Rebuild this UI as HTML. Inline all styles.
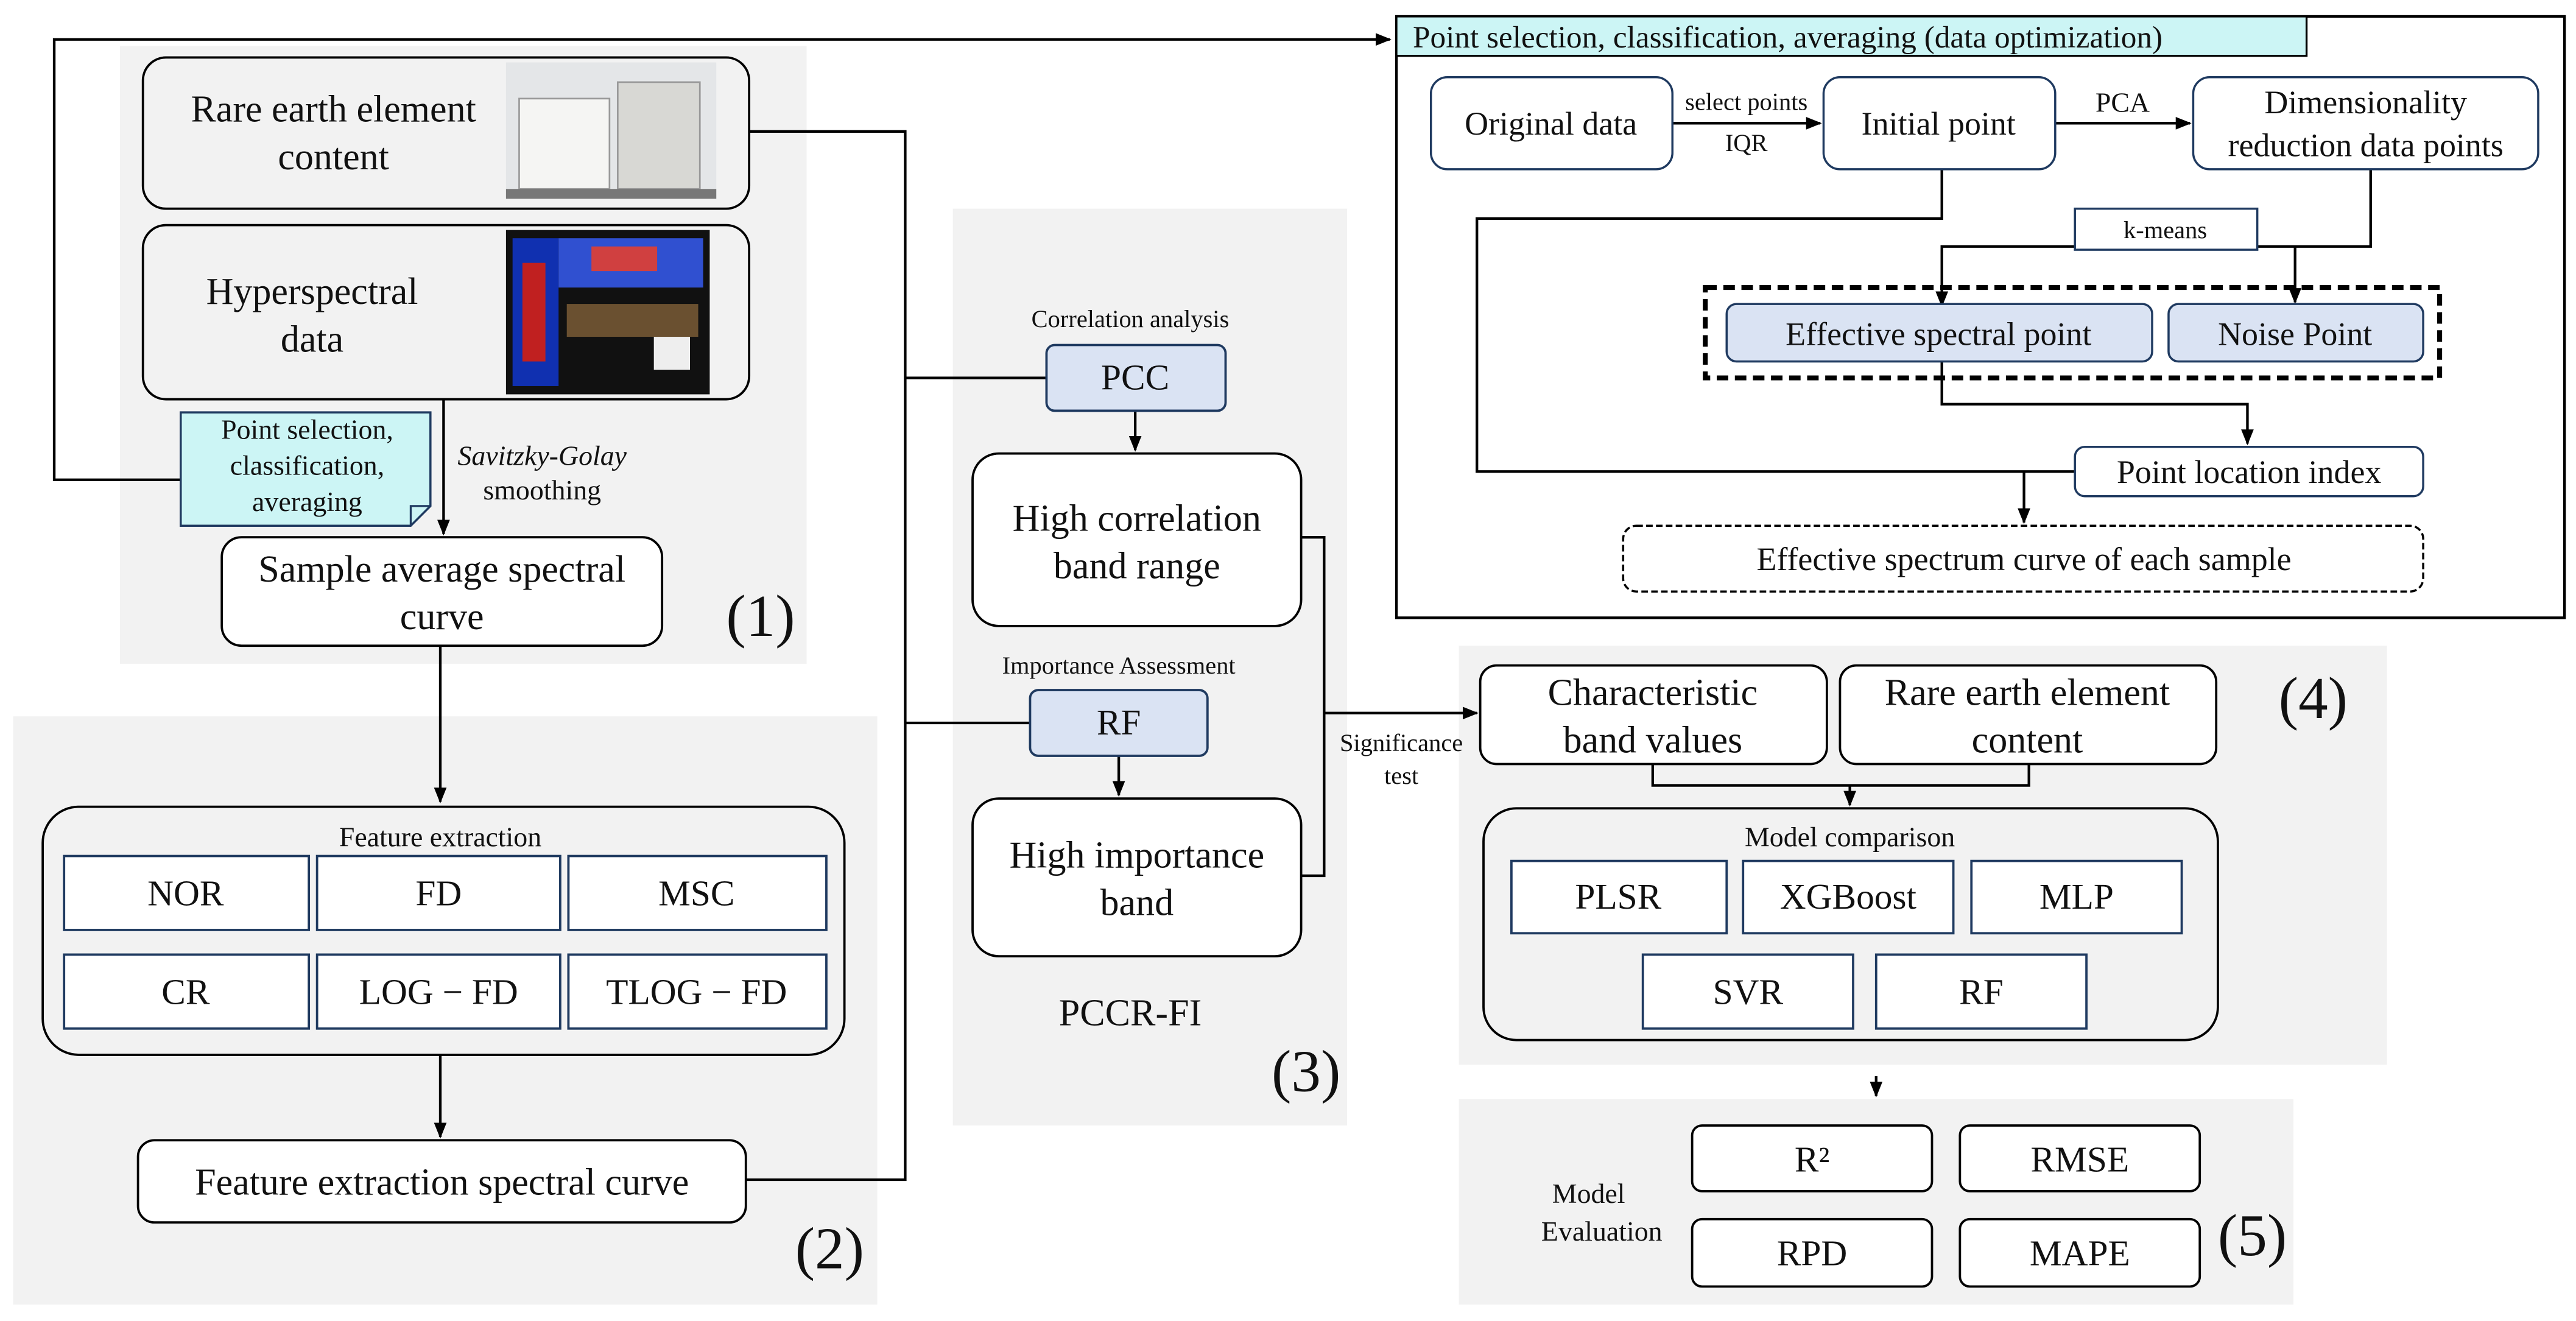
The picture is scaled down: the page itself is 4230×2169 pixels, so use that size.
<!DOCTYPE html>
<html><head><meta charset="utf-8"><style>
html,body{margin:0;padding:0;background:#fff;}
svg{display:block;}
svg text{font-family:"Liberation Serif","DejaVu Serif",serif;fill:#111;}
</style></head><body>
<svg width="4230" height="2169" viewBox="0 0 1568 804" preserveAspectRatio="none" xmlns="http://www.w3.org/2000/svg" font-family="Liberation Serif, DejaVu Serif, serif">
<defs>
<marker id="a" viewBox="0 0 10 10" refX="9" refY="5" markerWidth="6" markerHeight="6" orient="auto"><path d="M0,1 L10,5 L0,9 z" fill="#000"/></marker>
</defs>
<rect x="73" y="28" width="418" height="376" fill="#f2f2f2"/>
<rect x="8" y="436" width="526" height="358" fill="#f2f2f2"/>
<rect x="580" y="127" width="240" height="558" fill="#f2f2f2"/>
<rect x="888" y="393" width="565" height="255" fill="#f2f2f2"/>
<rect x="888" y="669" width="508" height="125" fill="#f2f2f2"/>

<g fill="none" stroke="#000" stroke-width="1.6">
<polyline points="110,292 33,292 33,24 846,24" marker-end="url(#a)"/>
<line x1="268" y1="393" x2="268" y2="488" marker-end="url(#a)"/>
<line x1="270" y1="243" x2="270" y2="325" marker-end="url(#a)"/>
<line x1="268" y1="642" x2="268" y2="692" marker-end="url(#a)"/>
<polyline points="454,718 551,718 551,80 456,80"/>
<line x1="551" y1="230" x2="637" y2="230"/>
<line x1="551" y1="440" x2="627" y2="440"/>
<line x1="691" y1="250" x2="691" y2="274" marker-end="url(#a)"/>
<line x1="681" y1="460" x2="681" y2="484" marker-end="url(#a)"/>
<polyline points="792,327 806,327 806,533 792,533"/>
<line x1="806" y1="434" x2="899" y2="434" marker-end="url(#a)"/>
<polyline points="1006,465 1006,478 1235,478 1235,465"/>
<line x1="1126" y1="478" x2="1126" y2="490" marker-end="url(#a)"/>
<line x1="1142" y1="655" x2="1142" y2="667" marker-end="url(#a)"/>
<line x1="1018" y1="75" x2="1108" y2="75" marker-end="url(#a)"/>
<line x1="1251" y1="75" x2="1333" y2="75" marker-end="url(#a)"/>
<polyline points="1443,103 1443,150 1182,150 1182,186" marker-end="url(#a)"/>
<line x1="1397" y1="150" x2="1397" y2="184" marker-end="url(#a)"/>
<polyline points="1182,220 1182,246 1368,246 1368,270" marker-end="url(#a)"/>
<polyline points="1182,103 1182,133 899,133 899,287 1263,287"/>
<line x1="1232" y1="287" x2="1232" y2="318" marker-end="url(#a)"/>
</g>

<rect x="850" y="10" width="711" height="366" fill="none" stroke="#000" stroke-width="1.6"/>
<rect x="850" y="10" width="554" height="24" fill="#ccf5f5" stroke="#000" stroke-width="1.2"/>
<text x="860" y="29" font-size="19">Point selection, classification, averaging (data optimization)</text>
<g fill="#fff" stroke="#1f3a60" stroke-width="1.3">
<rect x="871" y="47" width="147" height="56" rx="10"/>
<rect x="1110" y="47" width="141" height="56" rx="10"/>
<rect x="1335" y="47" width="210" height="56" rx="10"/>
<rect x="1263" y="127" width="111" height="25" fill="#fff"/>
<rect x="1263" y="272" width="212" height="30" rx="6"/>
</g>
<rect x="1038" y="175" width="447" height="55" fill="none" stroke="#000" stroke-width="3" stroke-dasharray="7,4"/>
<rect x="1051" y="185" width="259" height="35" rx="6" fill="#dae3f3" stroke="#1f3a60" stroke-width="1.3"/>
<rect x="1320" y="185" width="155" height="35" rx="6" fill="#dae3f3" stroke="#1f3a60" stroke-width="1.3"/>
<rect x="988" y="320" width="487" height="40" rx="8" fill="#fff" stroke="#000" stroke-width="1.3" stroke-dasharray="4,2"/>
<g font-size="20" text-anchor="middle">
<text x="944" y="82">Original data</text>
<text x="1180" y="82">Initial point</text>
<text x="1440" y="69">Dimensionality</text>
<text x="1440" y="95">reduction data points</text>
<text x="1180" y="210">Effective spectral point</text>
<text x="1397" y="210">Noise Point</text>
<text x="1369" y="294">Point location index</text>
<text x="1232" y="347">Effective spectrum curve of each sample</text>
</g>
<g font-size="15" text-anchor="middle">
<text x="1063" y="67">select points</text>
<text x="1063" y="92">IQR</text>
<text x="1292" y="68" font-size="17">PCA</text>
<text x="1318" y="145">k-means</text>
</g>

<rect x="87" y="35" width="369" height="92" rx="14" fill="#f2f2f2" stroke="#000" stroke-width="1.4"/>
<rect x="87" y="137" width="369" height="106" rx="14" fill="#f2f2f2" stroke="#000" stroke-width="1.4"/>
<rect x="308" y="38" width="128" height="83" fill="#e4e6e8"/>
<rect x="316" y="60" width="55" height="55" fill="#f5f5f3" stroke="#999"/>
<rect x="376" y="50" width="50" height="65" fill="#d8d8d4" stroke="#999"/>
<rect x="308" y="115" width="128" height="6" fill="#777"/>
<rect x="308" y="140" width="124" height="100" fill="#111"/>
<rect x="312" y="145" width="28" height="90" fill="#1030b0"/>
<rect x="318" y="160" width="14" height="60" fill="#c02020"/>
<rect x="340" y="145" width="88" height="30" fill="#3050d0"/>
<rect x="360" y="150" width="40" height="15" fill="#d04040"/>
<rect x="345" y="185" width="80" height="20" fill="#6a5030"/>
<rect x="398" y="205" width="22" height="20" fill="#eee"/>
<text x="203" y="74" font-size="23" text-anchor="middle">Rare earth element</text>
<text x="203" y="103" font-size="23" text-anchor="middle">content</text>
<text x="190" y="185" font-size="23" text-anchor="middle">Hyperspectral</text>
<text x="190" y="214" font-size="23" text-anchor="middle">data</text>
<path d="M110,251 H262 V308 L250,320 H110 Z" fill="#ccf5f5" stroke="#1f3a60" stroke-width="1.3"/>
<path d="M262,308 L250,308 L250,320" fill="none" stroke="#1f3a60" stroke-width="1.2"/>
<g font-size="17" text-anchor="middle">
<text x="187" y="267">Point selection,</text>
<text x="187" y="289">classification,</text>
<text x="187" y="311">averaging</text>
<text x="330" y="283" font-style="italic">Savitzky-Golay</text>
<text x="330" y="304">smoothing</text>
</g>
<rect x="135" y="327" width="268" height="66" rx="12" fill="#fff" stroke="#000" stroke-width="1.4"/>
<text x="269" y="354" font-size="23" text-anchor="middle">Sample average spectral</text>
<text x="269" y="383" font-size="23" text-anchor="middle">curve</text>
<text x="463" y="387" font-size="36" text-anchor="middle">(1)</text>

<rect x="26" y="491" width="488" height="151" rx="22" fill="#f2f2f2" stroke="#000" stroke-width="1.4"/>
<text x="268" y="515" font-size="17" text-anchor="middle">Feature extraction</text>
<g fill="#fff" stroke="#1f3a60" stroke-width="1.4">
<rect x="39" y="521" width="149" height="45"/><rect x="193" y="521" width="148" height="45"/><rect x="346" y="521" width="157" height="45"/>
<rect x="39" y="581" width="149" height="45"/><rect x="193" y="581" width="148" height="45"/><rect x="346" y="581" width="157" height="45"/>
</g>
<g font-size="22" text-anchor="middle">
<text x="113" y="551">NOR</text><text x="267" y="551">FD</text><text x="424" y="551">MSC</text>
<text x="113" y="611">CR</text><text x="267" y="611">LOG − FD</text><text x="424" y="611">TLOG − FD</text>
</g>
<rect x="84" y="694" width="370" height="50" rx="10" fill="#fff" stroke="#000" stroke-width="1.4"/>
<text x="269" y="727" font-size="23" text-anchor="middle">Feature extraction spectral curve</text>
<text x="505" y="772" font-size="36" text-anchor="middle">(2)</text>

<text x="688" y="199" font-size="15" text-anchor="middle">Correlation analysis</text>
<rect x="637" y="210" width="109" height="40" rx="5" fill="#dae3f3" stroke="#1f3a60" stroke-width="1.4"/>
<text x="691" y="237" font-size="22" text-anchor="middle">PCC</text>
<rect x="592" y="276" width="200" height="105" rx="16" fill="#fff" stroke="#000" stroke-width="1.4"/>
<text x="692" y="323" font-size="23" text-anchor="middle">High correlation</text>
<text x="692" y="352" font-size="23" text-anchor="middle">band range</text>
<text x="681" y="410" font-size="15" text-anchor="middle">Importance Assessment</text>
<rect x="627" y="420" width="108" height="40" rx="5" fill="#dae3f3" stroke="#1f3a60" stroke-width="1.4"/>
<text x="681" y="447" font-size="22" text-anchor="middle">RF</text>
<rect x="592" y="486" width="200" height="96" rx="16" fill="#fff" stroke="#000" stroke-width="1.4"/>
<text x="692" y="528" font-size="23" text-anchor="middle">High importance</text>
<text x="692" y="557" font-size="23" text-anchor="middle">band</text>
<text x="688" y="624" font-size="23" text-anchor="middle">PCCR-FI</text>
<text x="795" y="664" font-size="36" text-anchor="middle">(3)</text>
<text x="853" y="457" font-size="15" text-anchor="middle">Significance</text>
<text x="853" y="477" font-size="15" text-anchor="middle">test</text>

<rect x="901" y="405" width="211" height="60" rx="10" fill="#fff" stroke="#000" stroke-width="1.4"/>
<rect x="1120" y="405" width="229" height="60" rx="10" fill="#fff" stroke="#000" stroke-width="1.4"/>
<text x="1006" y="429" font-size="23" text-anchor="middle">Characteristic</text>
<text x="1006" y="458" font-size="23" text-anchor="middle">band values</text>
<text x="1234" y="429" font-size="23" text-anchor="middle">Rare earth element</text>
<text x="1234" y="458" font-size="23" text-anchor="middle">content</text>
<text x="1408" y="437" font-size="36" text-anchor="middle">(4)</text>
<rect x="903" y="492" width="447" height="141" rx="20" fill="#f2f2f2" stroke="#000" stroke-width="1.4"/>
<text x="1126" y="515" font-size="17" text-anchor="middle">Model comparison</text>
<g fill="#fff" stroke="#1f3a60" stroke-width="1.4">
<rect x="920" y="524" width="131" height="44"/><rect x="1061" y="524" width="128" height="44"/><rect x="1200" y="524" width="128" height="44"/>
<rect x="1000" y="581" width="128" height="45"/><rect x="1142" y="581" width="128" height="45"/>
</g>
<g font-size="22" text-anchor="middle">
<text x="985" y="553">PLSR</text><text x="1125" y="553">XGBoost</text><text x="1264" y="553">MLP</text>
<text x="1064" y="611">SVR</text><text x="1206" y="611">RF</text>
</g>

<text x="967" y="732" font-size="17" text-anchor="middle">Model</text>
<text x="975" y="755" font-size="17" text-anchor="middle">Evaluation</text>
<g fill="#fff" stroke="#000" stroke-width="1.4">
<rect x="1030" y="685" width="146" height="40" rx="6"/><rect x="1193" y="685" width="146" height="40" rx="6"/>
<rect x="1030" y="742" width="146" height="41" rx="6"/><rect x="1193" y="742" width="146" height="41" rx="6"/>
</g>
<g font-size="22" text-anchor="middle">
<text x="1103" y="713">R²</text><text x="1266" y="713">RMSE</text>
<text x="1103" y="770">RPD</text><text x="1266" y="770">MAPE</text>
</g>
<text x="1371" y="764" font-size="36" text-anchor="middle">(5)</text>
</svg>
</body></html>
